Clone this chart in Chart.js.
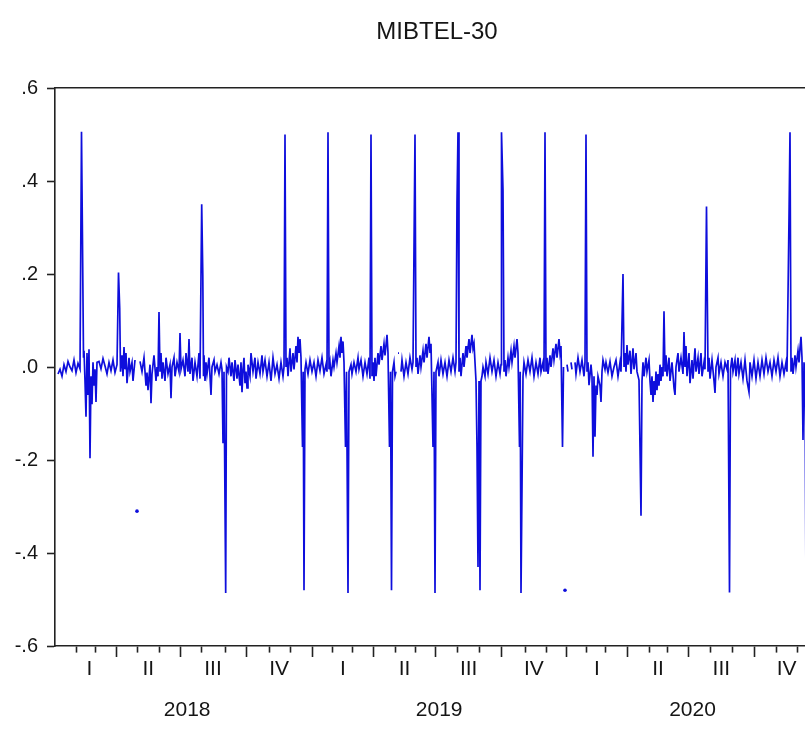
<!DOCTYPE html>
<html><head><meta charset="utf-8">
<script src="https://cdn.jsdelivr.net/npm/chart.js@4"></script>
<style>html,body{margin:0;padding:0;overflow:hidden;background:#fff;width:805px;height:740px}canvas{display:block}</style>
</head><body>
<canvas id="c" width="840" height="740"></canvas>
<script>
// Observations: [trading-day index since start of 2018, daily value]; null = missing
const obs2018 = [
[3,-.015],[5,-.005],[7,-.02],[9,.005],[11,-.01],[13,.012],[15,0],[17,-.008],[19,.015],[21,-.012],[23,.008],[25,-.004],
[26.5,.506],[27.5,.267],[28.5,.02],
[29,.035],[30,-.03],[31,-.107],[32,.03],[33,-.06],[34,.038],[35,-.196],[36,-.02],[37,-.08],[38,.01],[39,-.04],[40,-.005],[41,-.075],[42,.01],
[44,.012],[46,-.004],[48,.018],[50,.002],[52,-.015],[54,.01],[56,-.008],[58,.015],[60,-.012],[62,.005],
[63.5,.203],[64.7,.127],[65.5,-.01],
[67,.025],[68,-.02],[69,.043],[70,-.005],[71,.03],[72,-.035],[74,.02],[75,-.01],[77,.01],[78,-.03],[80,.015],
[81,null],[82,-.31],[83,null],
[85,.012],[87,-.01],[89,.02],[91,-.04],[92,-.012],[93,-.05],[95,.005],[96,-.078],[97,-.015],[99,.025],[101,-.03],[102,0],[103,-.02],
[104,.118],[105,-.01],
[106,.03],[107,-.025],[108,.01],[110,-.03],[111,.02],[113,-.015],[115,.005],[116,-.067],[117,0],[119,.02],[120,-.02],[122,.01],[124,-.01],[125,.073],[126,-.005],[128,.015],[130,-.02],[131,.03],[133,-.01],[134,.06],[135,-.015],[137,.02],[138,-.03],[140,.01],[142,-.02],[144,.03],[145,-.025],
[146.7,.35],[147.8,.198],[148.5,-.02],
[149,.025],[150,-.03],[151,.01],[152,-.015],[154,.02],[156,-.06],[157,0],[159,.015],[160,-.01],[162,.005],[164,-.015],[166,.01],[167,-.005],
[168,-.164],[169,-.01],[170.7,-.486],[171.5,0],
[173,-.01],[174,.02],[176,-.02],[177,.01],[179,-.03],[180,.015],[182,-.025],[183,.005],[185,-.04],[186,.01],[187,-.054],[188,-.005],[189,.02],[190,-.035],[191,-.01],[192,-.045],[193,.005],[195,-.02],[196,.03],[198,-.01],[200,.02],[201,-.025],[203,.01],[205,-.015],[207,.025],[208,-.01],[210,.015],[212,-.02],[214,.01],[216,-.03],[218,.02],[220,-.015],[222,.005],[224,-.025],[226,.01],[228,-.02],[229,0],
[230,.50],[231,0],
[232,.02],[233,-.02],[235,.04],[236,-.01],[238,.03],[239,-.005],[241,.045],[242,.01],[243,.065],[244,.03],[245,.06],[246,.02],
[247.5,-.172],[248.2,-.01],[249,-.48],[250,-.005],
[251,.01],[253,-.015],[255,.015],[257,-.01]
];
const obs2019 = [
[259,.01],[261,-.02],[263,.015],[265,-.008],[267,.02],[269,-.015],[271,.005],[272,-.01],
[273,.505],[274,-.005],
[275,.01],[276,-.02],[278,.015],[279,0],[281,.03],[282,.01],[284,.045],[285,.02],[286,.065],[287,.03],[288,.055],[289,.01],
[290.5,-.172],[291.5,-.01],[293,-.486],[294,-.01],
[296,.005],[297,-.015],[299,.01],[301,-.01],[303,.02],[304,-.005],[306,.015],[308,-.02],[310,.01],[312,-.015],[314,.02],[315,-.025],
[316,.50],[317,-.02],
[318,.01],[319,-.03],[320,.02],[321,-.02],[323,.03],[324,.005],[326,.045],[327,.015],[329,.05],[330,.025],[332,.069],[333,.03],
[334.5,-.172],[335.5,-.01],[336.5,-.48],[337.5,-.01],
[339,.01],[340,-.02],[341,-.01],[342,null],[343,.03],[344,.03],[344.5,null],[346,-.01],[347,.015],[349,-.02],[351,.01],[353,-.015],[355,.02],[357,-.005],[358,.01],
[360,.50],[361,0],
[362,.02],[363,-.015],[365,.025],[366,0],[368,.035],[369,.01],[371,.05],[372,.02],[374,.065],[375,.03],[376,.05],
[378,-.172],[379,-.01],[380,-.486],[381,-.01],
[383,.01],[384,-.02],[386,.015],[388,-.015],[390,.01],[392,-.02],[394,.015],[396,-.01],[398,.02],[400,-.01],[401,.01],
[402,.355],[403,.505],[404,-.01],
[405,.02],[406,-.02],[408,.03],[409,0],[411,.045],[412,.02],[414,.06],[415,.03],[417,.069],[418,.04],[419,.05],
[421,-.03],[422,-.172],[423,-.43],[424,-.03],[425,-.48],[426,-.03],
[427,-.02],[428,0],[430,-.02],[431,.01],[433,-.015],[435,.02],[437,-.01],[439,.015],[441,-.02],[443,.01],[445,-.015],[446,.005],
[446.5,.505],[448,.38],[449,-.01],
[450,.015],[451,-.02],[453,.02],[454,0],[456,.035],[457,.01],[459,.045],[460,.02],[462,.06],[463,.03],
[464.5,-.172],[465.2,-.01],[466,-.486],[467,-.26],[468,-.02],
[469,.01],[471,-.015],[473,.015],[475,-.01],[477,.02],[479,-.02],[481,.01],[483,-.015],[485,.02],[486,-.01],[488,.01],[489,-.01],
[490,.505],[491,-.01],
[492,.02],[493,-.015],[495,.025],[496,0],[498,.04],[499,.015],[501,.05],[502,.02],[504,.06],[505,.03],[506,.045],
[507.5,-.172],[508.5,0],[509.5,null],[510,-.48],[510.5,null]
];
const obs2020 = [
[512,.005],[513,-.01],[514,null],[516,.01],[517,-.005],[518,null],[520,.01],[521,-.015],[523,.02],[525,-.01],[527,.015],[529,-.02],[530,.01],
[531,.50],[532,-.01],
[533,.01],[534,-.039],[536,.005],[537,-.02],[538,-.193],[539,-.02],[540,-.15],[541,-.04],[542,-.06],[543,-.02],[545,-.04],[546,-.075],[547,-.01],
[548,.015],[550,-.005],[551,.01],[553,-.012],[555,.012],[557,-.02],[559,0],[561,.015],[563,-.02],[565,.01],[566,-.01],
[568,.20],[569,0],
[570,.03],[571,-.01],[572,.047],[573,.005],[575,.035],[576,-.015],[578,.04],[579,-.005],[581,.03],[582,-.01],
[584,-.028],[586,-.32],[587,-.03],
[588,.01],[589,-.02],[591,.02],[592,-.01],[594,.015],[595,-.03],[596,-.06],[597,-.02],[598,-.075],[599,-.03],[600,-.06],[601,-.01],[602,-.05],[603,-.015],[604,-.04],[605,.005],[606,-.03],[607,0],[608,-.02],
[609,.12],[610,-.01],
[611,.025],[612,-.02],[614,.02],[615,-.03],[617,.01],[619,-.045],[620,-.06],[621,0],[623,.03],[624,-.01],[626,.02],[628,-.015],
[629,.075],[630,0],
[631,.045],[632,-.02],[634,.03],[635,-.035],[637,.015],[638,-.025],[640,.04],[641,-.01],[643,.02],[644,-.015],[646,.03],[647,-.02],[649,.01],[650,-.005],
[651.5,.345],[653,-.01],
[654,.02],[655,-.025],[657,.015],[659,-.03],[660,-.056],[661,0],[663,.02],[664,-.015],[666,.01],[668,-.02],[670,.01],[672,-.005],[673,.015],
[674.5,-.485],[675.5,-.005],
[677,.02],[678,-.01],[680,.015],[681,-.02],[683,.02],[684,-.015],[686,.01],[688,-.025],[690,.015],[692,-.03],[694,-.054],[695,.01],[697,-.02],[699,.015],[701,-.025],[703,.01],[705,-.02],[707,.015],[709,-.015],[711,.02],[713,-.01],[715,.01],[717,-.02],[719,.015],[721,-.01],[723,.02],[725,-.02],[727,.01],[729,-.015],[731,.01],[732,-.01],
[734,.32],[735,.505],[736,-.01],
[737,.02],[738,-.015],[740,.025],[741,0],[743,.035],[744,.01],[745,.04],[746,.065],[747,.02],
[748,-.157],[749,.01],[750,-.02],[751,-.48],[752,0],[754,.01],[756,-.015],[758,.01],[760,-.01],[762,.005]
];

// Month start positions (trading-day index), Jan 2018 .. Jan 2021
const monthStarts = [7,21,40.7,61.7,82.3,104.3,125,146.7,170.7,191,214.3,235,
  257.3,277.7,297.7,318.3,340,360.7,380.7,402.7,424.3,446.7,470.7,491,
  511,531.7,550.7,572.7,594.3,612.7,633.3,655,677.3,699.3,721.7,742.3,764];
const quarterNames = ['I','II','III','IV'];
const yearNames = ['2018','2019','2020'];
const yTickValues = [-0.6,-0.4,-0.2,0,0.2,0.4,0.6];
const yTickLabels = ['-.6','-.4','-.2','.0','.2','.4','.6'];

const FONT = "'Liberation Sans',Arial,sans-serif";
const TXT = '#151515';

const points = [...obs2018, ...obs2019, ...obs2020].map(([x, y]) => ({x, y}));

// Build x-axis ticks: month marks (short), quarter marks (long), quarter labels, year labels
const xTicks = [];
monthStarts.forEach((m, i) => { if (i > 0) xTicks.push({value: m, kind: i % 3 === 0 ? 'q' : 'm', label: ''}); });
yearNames.forEach((yn, y) => {
  for (let q = 0; q < 4; q++) {
    const a = monthStarts[12 * y + 3 * q], b = monthStarts[12 * y + 3 * q + 3];
    xTicks.push({value: (a + b) / 2, kind: 'lab', label: quarterNames[q]});
  }
  xTicks.push({value: (monthStarts[12 * y] + monthStarts[12 * y + 12]) / 2, kind: 'lab', label: ['', yn]});
});
xTicks.sort((a, b) => a.value - b.value);

const X_MIN = 0, X_MAX = 764;

new Chart(document.getElementById('c'), {
  type: 'line',
  data: { datasets: [{
    data: points,
    borderColor: 'rgb(14,14,220)',
    backgroundColor: 'rgb(14,14,220)',
    borderWidth: 1.7,
    tension: 0,
    spanGaps: false,
    pointBorderWidth: 0,
    pointRadius: (ctx) => {
      const d = ctx.dataset.data, i = ctx.dataIndex;
      if (!d[i] || d[i].y == null) return 0;
      const pn = i === 0 || d[i - 1].y == null;
      const nn = i === d.length - 1 || d[i + 1].y == null;
      return pn && nn ? 1.8 : 0;
    },
    pointHoverRadius: 0
  }]},
  options: {
    responsive: false,
    animation: false,
    events: [],
    layout: { padding: { left: 0, right: 21, top: 0, bottom: 0 } },
    plugins: {
      legend: { display: false },
      tooltip: { enabled: false },
      title: {
        display: true, text: 'MIBTEL-30', fullSize: false, color: TXT,
        font: { family: FONT, size: 24, weight: 'normal', lineHeight: 1.2 },
        padding: { top: 18, bottom: 41.2 }
      }
    },
    scales: {
      x: {
        type: 'linear', position: 'bottom', min: X_MIN, max: X_MAX,
        afterBuildTicks: (s) => { s.ticks = xTicks.map(t => ({value: t.value})); },
        afterFit: (s) => { s.height = 94; },
        border: { display: true, color: '#222', width: 1.6 },
        grid: {
          display: true, drawOnChartArea: false, drawTicks: true, tickLength: 11,
          tickWidth: 1.6,
          tickColor: (ctx) => xTicks[ctx.index] && xTicks[ctx.index].kind !== 'lab' ? '#222' : 'rgba(0,0,0,0)',
          tickBorderDash: (ctx) => xTicks[ctx.index] && xTicks[ctx.index].kind === 'm' ? [6, 40] : []
        },
        ticks: {
          autoSkip: false, maxRotation: 0, minRotation: 0, padding: -8, color: TXT,
          font: { family: FONT, size: 21, lineHeight: 41 / 21 },
          callback: (v, i) => xTicks[i] ? xTicks[i].label : ''
        }
      },
      x2: {
        type: 'linear', position: 'top', min: X_MIN, max: X_MAX,
        afterFit: (s) => { s.height = 0; },
        border: { display: true, color: '#222', width: 1.6 },
        grid: { display: false, drawTicks: false },
        ticks: { display: false }
      },
      y: {
        type: 'linear', position: 'left', min: -0.6, max: 0.6,
        afterBuildTicks: (s) => { s.ticks = yTickValues.map(v => ({value: v})); },
        afterFit: (s) => { s.width = 55; },
        border: { display: true, color: '#222', width: 1.6 },
        grid: { display: true, drawOnChartArea: false, drawTicks: true, tickLength: 8, tickWidth: 1.6, tickColor: '#222' },
        ticks: {
          padding: 9, color: TXT,
          font: { family: FONT, size: 20 },
          callback: (v, i) => yTickLabels[i]
        }
      }
    }
  }
});
</script>
</body></html>
